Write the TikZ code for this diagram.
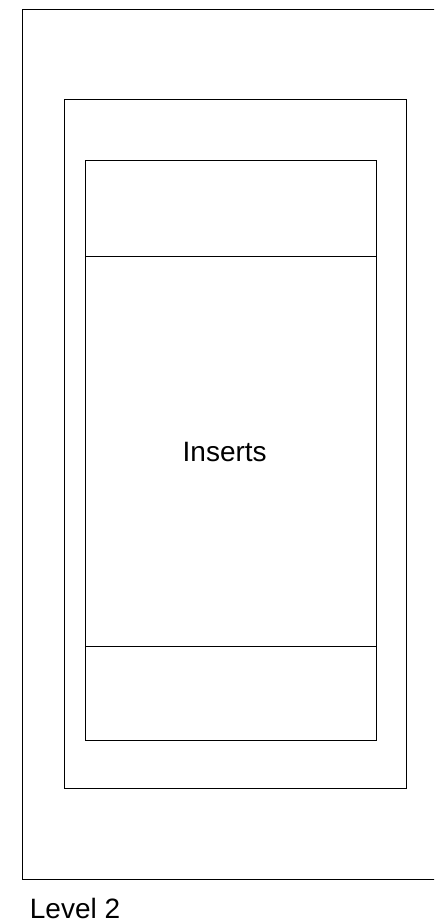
\documentclass[tikz,border=0pt]{standalone}
\usepackage{fontspec}
\setmainfont{Liberation Sans}
\begin{document}
\begin{tikzpicture}[x=1pt,y=1pt,
  frame/.style={draw=black,line width=1pt,inner sep=0pt,outer sep=0pt},
  lbl/.style={inner sep=0pt,font=\fontsize{28}{32}\selectfont}]
\useasboundingbox (0,0) rectangle (434,924);
\clip (0,0) rectangle (434,924);
% outer frame (right edge beyond the picture)
\node[frame,anchor=north west,minimum width=440pt,minimum height=870pt] (outer) at (22.5,914.5) {};
% middle frame
\node[frame,anchor=north west,minimum width=342pt,minimum height=689pt] (middle) at (64.5,824) {};
% inner stack
\node[frame,anchor=north west,minimum width=291pt,minimum height=95.5pt] (top) at (85,763) {};
\node[frame,anchor=north,minimum width=291pt,minimum height=390pt] (ins) at (top.south) {};
\node[frame,anchor=north,minimum width=291pt,minimum height=94.5pt] (bot) at (ins.south) {};
\node[lbl,anchor=base] (instext) at (224.7,462) {Inserts};
\node[lbl,anchor=base west] (level) at (29.7,5.7) {Level 2};
\end{tikzpicture}
\end{document}
